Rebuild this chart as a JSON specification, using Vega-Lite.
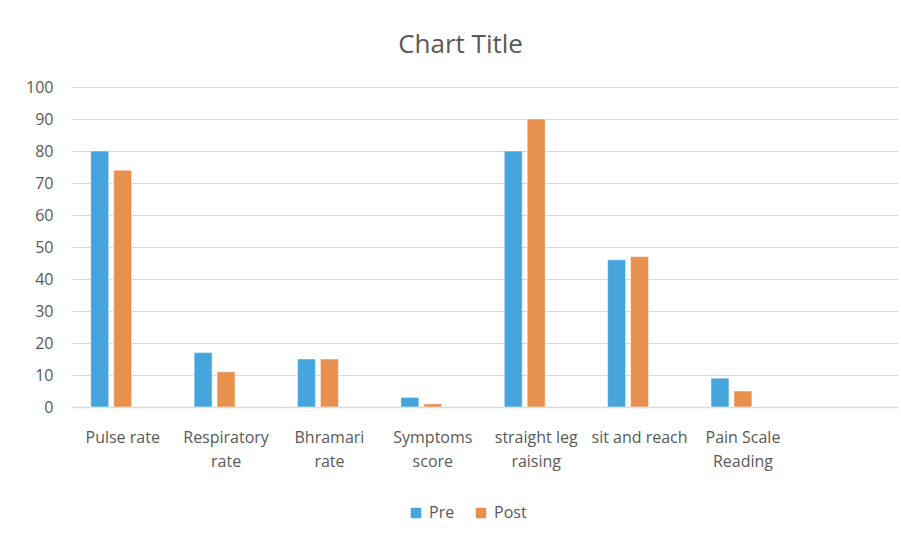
{
  "$schema": "https://vega.github.io/schema/vega-lite/v6.json",
  "autosize": "none",
  "width": 827,
  "height": 320,
  "padding": {"left": 71, "top": 87, "right": 3, "bottom": 128},
  "background": "white",
  "title": {
    "text": "Chart Title",
    "fontSize": 26,
    "font": "Open Sans",
    "fontWeight": "normal",
    "color": "#595959",
    "anchor": "middle",
    "dx": -24,
    "offset": 21
  },
  "data": {
    "values": [
      {"metric": "Pulse rate", "series": "Pre", "value": 80},
      {"metric": "Pulse rate", "series": "Post", "value": 74},
      {"metric": "Respiratory rate", "series": "Pre", "value": 17},
      {"metric": "Respiratory rate", "series": "Post", "value": 11},
      {"metric": "Bhramari rate", "series": "Pre", "value": 15},
      {"metric": "Bhramari rate", "series": "Post", "value": 15},
      {"metric": "Symptoms score", "series": "Pre", "value": 3},
      {"metric": "Symptoms score", "series": "Post", "value": 1},
      {"metric": "straight leg raising", "series": "Pre", "value": 80},
      {"metric": "straight leg raising", "series": "Post", "value": 90},
      {"metric": "sit and reach", "series": "Pre", "value": 46},
      {"metric": "sit and reach", "series": "Post", "value": 47},
      {"metric": "Pain Scale Reading", "series": "Pre", "value": 9},
      {"metric": "Pain Scale Reading", "series": "Post", "value": 5}
    ]
  },
  "mark": {"type": "bar", "stroke": "white", "strokeWidth": 0.5},
  "encoding": {
    "x": {
      "field": "metric",
      "type": "nominal",
      "sort": null,
      "scale": {
        "domain": ["Pulse rate", "Respiratory rate", "Bhramari rate", "Symptoms score", "straight leg raising", "sit and reach", "Pain Scale Reading", ""],
        "paddingInner": 0.382,
        "paddingOuter": 0.191
      },
      "axis": {
        "title": null,
        "labelAngle": 0,
        "ticks": false,
        "domain": true,
        "domainColor": "#d9d9d9",
        "domainWidth": 1.5,
        "labelFont": "Open Sans",
        "labelFontSize": 16,
        "labelColor": "#595959",
        "labelPadding": 22,
        "labelLineHeight": 24,
        "labelBaseline": "top",
        "labelExpr": "datum.value === 'Respiratory rate' ? ['Respiratory', 'rate'] : datum.value === 'Bhramari rate' ? ['Bhramari', 'rate'] : datum.value === 'Symptoms score' ? ['Symptoms', 'score'] : datum.value === 'straight leg raising' ? ['straight leg', 'raising'] : datum.value === 'Pain Scale Reading' ? ['Pain Scale', 'Reading'] : datum.label"
      }
    },
    "xOffset": {
      "field": "series",
      "type": "nominal",
      "scale": {"domain": ["Pre", "Post", "Series3"], "paddingInner": 0.217, "paddingOuter": 0}
    },
    "y": {
      "field": "value",
      "type": "quantitative",
      "scale": {"domain": [0, 100]},
      "axis": {
        "title": null,
        "values": [0, 10, 20, 30, 40, 50, 60, 70, 80, 90, 100],
        "domain": false,
        "ticks": false,
        "gridColor": "#d9d9d9",
        "gridWidth": 1.2,
        "labelFont": "Open Sans",
        "labelFontSize": 16,
        "labelColor": "#595959",
        "labelPadding": 18
      }
    },
    "color": {
      "field": "series",
      "type": "nominal",
      "scale": {"domain": ["Pre", "Post"], "range": ["#46a5dc", "#e8914f"]},
      "legend": {
        "title": null,
        "orient": "none",
        "direction": "horizontal",
        "legendX": 337,
        "legendY": 418,
        "symbolType": "square",
        "symbolSize": 110,
        "symbolStrokeWidth": 0,
        "labelFont": "Open Sans",
        "labelFontSize": 16,
        "labelColor": "#595959",
        "columnPadding": 18,
        "labelOffset": 5
      }
    }
  },
  "config": {"view": {"stroke": null}}
}
